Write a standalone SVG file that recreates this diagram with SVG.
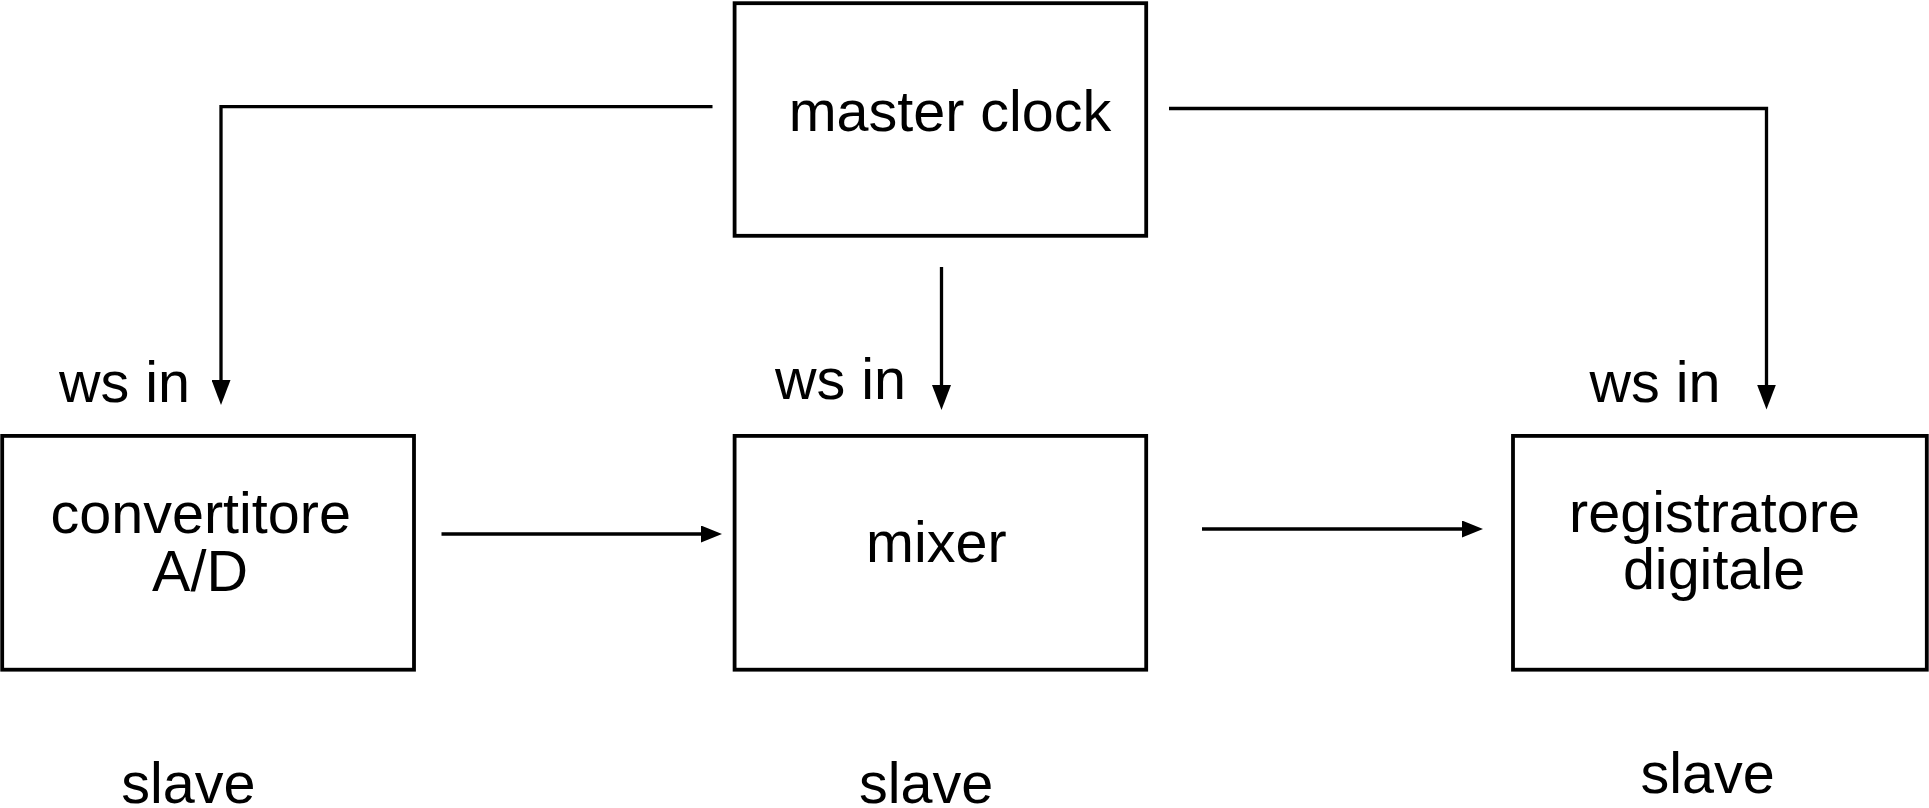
<svg xmlns="http://www.w3.org/2000/svg" width="1929" height="808" viewBox="0 0 1929 808">
<style>
.box{fill:#fff;stroke:#000;stroke-width:3.8}
.lbl{font-family:"Liberation Sans",Arial,sans-serif;font-size:57.5px;fill:#000;text-anchor:middle}
.wire{fill:none;stroke:#000;stroke-width:3.3}
</style>
<defs>
<marker id="arrV" viewBox="0 0 25 19" refX="1" refY="9.5" markerWidth="25" markerHeight="19" markerUnits="userSpaceOnUse" orient="auto">
<path d="M0,0 L25,9.5 L0,19 z" fill="#000"/>
</marker>
<marker id="arrH" viewBox="0 0 21 17" refX="1" refY="8.5" markerWidth="21" markerHeight="17" markerUnits="userSpaceOnUse" orient="auto">
<path d="M0,0 L21,8.5 L0,17 z" fill="#000"/>
</marker>
</defs>
<rect width="1929" height="808" fill="#fff"/>
<g id="connectors">
<path class="wire" d="M712.5,106.7 H221 V381" marker-end="url(#arrV)"/>
<path class="wire" d="M1169,108.5 H1766.5 V385.5" marker-end="url(#arrV)"/>
<path class="wire" d="M941.5,267 V386" marker-end="url(#arrV)"/>
<path class="wire" d="M441.5,534 H702" marker-end="url(#arrH)"/>
<path class="wire" d="M1202,529 H1463" marker-end="url(#arrH)"/>
</g>
<g id="master">
<rect class="box" x="734.6" y="3.2" width="411.6" height="232.6"/>
<text class="lbl" x="950" y="131">master clock</text>
</g>
<g id="convertitore">
<rect class="box" x="2.2" y="435.9" width="411.8" height="233.8"/>
<text class="lbl" x="200.7" y="532.7">convertitore</text>
<text class="lbl" x="200" y="590.7">A/D</text>
<text class="lbl" x="124.5" y="401.7">ws in</text>
<text class="lbl" x="188.3" y="803">slave</text>
</g>
<g id="mixer">
<rect class="box" x="734.6" y="435.9" width="411.6" height="233.8"/>
<text class="lbl" x="936.4" y="561.7">mixer</text>
<text class="lbl" x="840.5" y="399">ws in</text>
<text class="lbl" x="926" y="803">slave</text>
</g>
<g id="registratore">
<rect class="box" x="1513" y="435.9" width="413.8" height="233.8"/>
<text class="lbl" x="1714.5" y="531.7">registratore</text>
<text class="lbl" x="1714" y="589">digitale</text>
<text class="lbl" x="1655" y="401.7">ws in</text>
<text class="lbl" x="1707.5" y="793">slave</text>
</g>
</svg>
